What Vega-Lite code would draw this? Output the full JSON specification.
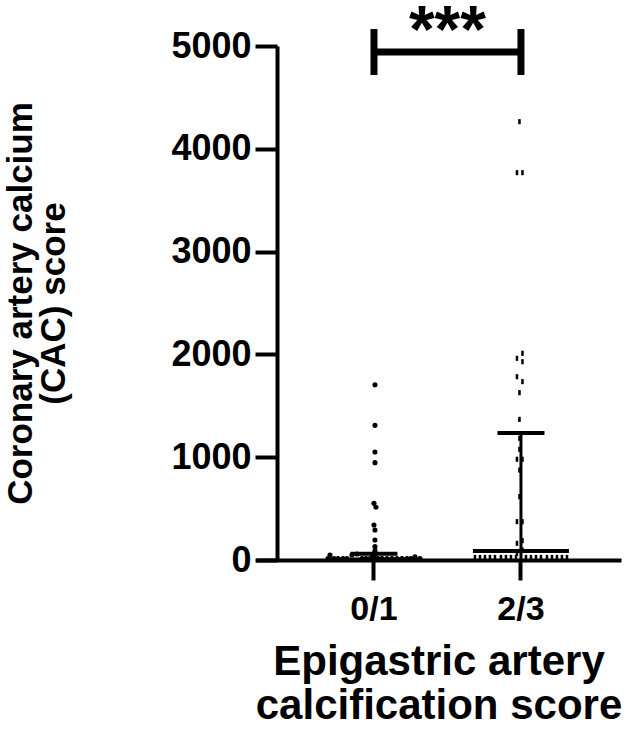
{
  "$schema": "https://vega.github.io/schema/vega-lite/v6.json",
  "width": 365,
  "height": 514,
  "autosize": "none",
  "padding": {"left": 256, "top": 46, "right": 9, "bottom": 179},
  "background": "white",
  "config": {
    "view": {"stroke": null},
    "font": "Liberation Sans",
    "axis": {
      "domainColor": "black",
      "domainWidth": 4,
      "tickColor": "black",
      "tickWidth": 4,
      "grid": false,
      "labelFont": "Liberation Sans",
      "labelFontWeight": "bold",
      "labelColor": "black",
      "titleFont": "Liberation Sans",
      "titleFontWeight": "bold",
      "titleColor": "black"
    }
  },
  "datasets": {
    "points": [
      {"group": "0/1", "value": 1705, "jitter": 1},
      {"group": "0/1", "value": 1310, "jitter": 1},
      {"group": "0/1", "value": 1051, "jitter": 1},
      {"group": "0/1", "value": 947, "jitter": 1},
      {"group": "0/1", "value": 551, "jitter": 0},
      {"group": "0/1", "value": 513, "jitter": 2},
      {"group": "0/1", "value": 340, "jitter": 0},
      {"group": "0/1", "value": 292, "jitter": 1},
      {"group": "0/1", "value": 195, "jitter": 1},
      {"group": "0/1", "value": 130, "jitter": 1},
      {"group": "0/1", "value": 90, "jitter": 1},
      {"group": "0/1", "value": 60, "jitter": 0},
      {"group": "0/1", "value": 32, "jitter": 1},
      {"group": "0/1", "value": 45, "jitter": -1},
      {"group": "0/1", "value": 20, "jitter": 2},
      {"group": "0/1", "value": 49, "jitter": -44},
      {"group": "0/1", "value": 49, "jitter": -22},
      {"group": "0/1", "value": 58, "jitter": -17},
      {"group": "0/1", "value": 32, "jitter": 41},
      {"group": "0/1", "value": 15, "jitter": -46},
      {"group": "0/1", "value": 15, "jitter": -40},
      {"group": "0/1", "value": 15, "jitter": -36},
      {"group": "0/1", "value": 15, "jitter": -31},
      {"group": "0/1", "value": 15, "jitter": -27},
      {"group": "0/1", "value": 15, "jitter": -12},
      {"group": "0/1", "value": 15, "jitter": -8},
      {"group": "0/1", "value": 15, "jitter": -4},
      {"group": "0/1", "value": 15, "jitter": 4},
      {"group": "0/1", "value": 15, "jitter": 8},
      {"group": "0/1", "value": 15, "jitter": 13},
      {"group": "0/1", "value": 15, "jitter": 18},
      {"group": "0/1", "value": 15, "jitter": 23},
      {"group": "0/1", "value": 15, "jitter": 28},
      {"group": "0/1", "value": 15, "jitter": 33},
      {"group": "0/1", "value": 15, "jitter": 37},
      {"group": "0/1", "value": 15, "jitter": 46},
      {"group": "2/3", "value": 4264, "jitter": -1.5},
      {"group": "2/3", "value": 3768, "jitter": -4},
      {"group": "2/3", "value": 3768, "jitter": 1.5},
      {"group": "2/3", "value": 2011, "jitter": 1.5},
      {"group": "2/3", "value": 1962, "jitter": -4},
      {"group": "2/3", "value": 1929, "jitter": 1.5},
      {"group": "2/3", "value": 1783, "jitter": -4},
      {"group": "2/3", "value": 1735, "jitter": 1.5},
      {"group": "2/3", "value": 1628, "jitter": -1.5},
      {"group": "2/3", "value": 1368, "jitter": -1.5},
      {"group": "2/3", "value": 1184, "jitter": -1.5},
      {"group": "2/3", "value": 1077, "jitter": -1.5},
      {"group": "2/3", "value": 980, "jitter": -4},
      {"group": "2/3", "value": 980, "jitter": 1.5},
      {"group": "2/3", "value": 875, "jitter": -1.5},
      {"group": "2/3", "value": 616, "jitter": -1.5},
      {"group": "2/3", "value": 373, "jitter": -4},
      {"group": "2/3", "value": 373, "jitter": 1.5},
      {"group": "2/3", "value": 188, "jitter": 1.5},
      {"group": "2/3", "value": 162, "jitter": -4},
      {"group": "2/3", "value": 97, "jitter": 1.5},
      {"group": "2/3", "value": 65, "jitter": -4},
      {"group": "2/3", "value": 25, "jitter": -46},
      {"group": "2/3", "value": 25, "jitter": -41},
      {"group": "2/3", "value": 25, "jitter": -36},
      {"group": "2/3", "value": 25, "jitter": -31},
      {"group": "2/3", "value": 25, "jitter": -26},
      {"group": "2/3", "value": 25, "jitter": -20},
      {"group": "2/3", "value": 25, "jitter": -15},
      {"group": "2/3", "value": 25, "jitter": -10},
      {"group": "2/3", "value": 25, "jitter": -5},
      {"group": "2/3", "value": 25, "jitter": 5},
      {"group": "2/3", "value": 25, "jitter": 10},
      {"group": "2/3", "value": 25, "jitter": 15},
      {"group": "2/3", "value": 25, "jitter": 20},
      {"group": "2/3", "value": 25, "jitter": 26},
      {"group": "2/3", "value": 25, "jitter": 31},
      {"group": "2/3", "value": 25, "jitter": 36},
      {"group": "2/3", "value": 25, "jitter": 41},
      {"group": "2/3", "value": 25, "jitter": 46}
    ],
    "summary": [
      {"group": "0/1", "median": 5, "q1": 0, "q3": 60},
      {"group": "2/3", "median": 88, "q1": 0, "q3": 1235}
    ],
    "bracket": [
      {"from": "0/1", "to": "2/3", "level": 4942}
    ],
    "bracketEnds": [
      {"group": "0/1", "lo": 4718, "hi": 5165},
      {"group": "2/3", "lo": 4718, "hi": 5165}
    ],
    "stars": [
      {"group": "0/1", "jitter": 73.5, "level": 4946, "label": "***"}
    ]
  },
  "layer": [
    {
      "data": {"name": "points"},
      "mark": {"type": "point", "filled": true, "color": "black", "opacity": 1, "size": 26},
      "encoding": {
        "x": {
          "field": "group",
          "type": "nominal",
          "scale": {"domain": ["0/1", "2/3"], "paddingInner": 0.3197, "paddingOuter": 0.4014, "align": 0.576},
          "axis": {
            "labelAngle": 0,
            "labelFontSize": 34,
            "labelPadding": 12,
            "tickSize": 20,
            "title": ["Epigastric artery", "calcification score"],
            "titleFontSize": 42,
            "titleLineHeight": 44,
            "titlePadding": 15
          }
        },
        "xOffset": {"field": "jitter", "type": "quantitative", "scale": {"domain": [-50, 50]}},
        "y": {
          "field": "value",
          "type": "quantitative",
          "scale": {"domain": [0, 5000], "nice": false},
          "axis": {
            "values": [0, 1000, 2000, 3000, 4000, 5000],
            "format": "d",
            "offset": -21,
            "tickSize": 22,
            "labelFontSize": 36,
            "labelPadding": 4,
            "title": ["Coronary artery calcium", "(CAC) score"],
            "titleFontSize": 35,
            "titleLineHeight": 33,
            "titlePadding": 99
          }
        },
        "shape": {
          "field": "group",
          "type": "nominal",
          "scale": {"domain": ["0/1", "2/3"], "range": ["circle", "M-0.5,-1h1v2h-1z"]},
          "legend": null
        }
      }
    },
    {
      "data": {"name": "summary"},
      "mark": {"type": "rule", "color": "black", "strokeWidth": 3},
      "encoding": {
        "x": {"field": "group", "type": "nominal"},
        "y": {"field": "q1", "type": "quantitative"},
        "y2": {"field": "q3"}
      }
    },
    {
      "data": {"name": "summary"},
      "mark": {"type": "tick", "color": "black", "size": 96, "thickness": 4, "opacity": 1},
      "encoding": {
        "x": {"field": "group", "type": "nominal"},
        "y": {"field": "median", "type": "quantitative"}
      }
    },
    {
      "data": {"name": "summary"},
      "mark": {"type": "tick", "color": "black", "size": 47, "thickness": 4, "opacity": 1},
      "encoding": {
        "x": {"field": "group", "type": "nominal"},
        "y": {"field": "q3", "type": "quantitative"}
      }
    },
    {
      "data": {"name": "bracket"},
      "mark": {"type": "rule", "color": "black", "strokeWidth": 7},
      "encoding": {
        "x": {"field": "from", "type": "nominal"},
        "x2": {"field": "to"},
        "y": {"field": "level", "type": "quantitative"}
      }
    },
    {
      "data": {"name": "bracketEnds"},
      "mark": {"type": "rule", "color": "black", "strokeWidth": 7},
      "encoding": {
        "x": {"field": "group", "type": "nominal"},
        "y": {"field": "lo", "type": "quantitative"},
        "y2": {"field": "hi"}
      }
    },
    {
      "data": {"name": "stars"},
      "mark": {"type": "text", "color": "black", "font": "Liberation Sans", "fontWeight": "bold", "fontSize": 66, "align": "center", "baseline": "alphabetic"},
      "encoding": {
        "x": {"field": "group", "type": "nominal"},
        "xOffset": {"field": "jitter", "type": "quantitative"},
        "y": {"field": "level", "type": "quantitative"},
        "text": {"field": "label"}
      }
    }
  ]
}
